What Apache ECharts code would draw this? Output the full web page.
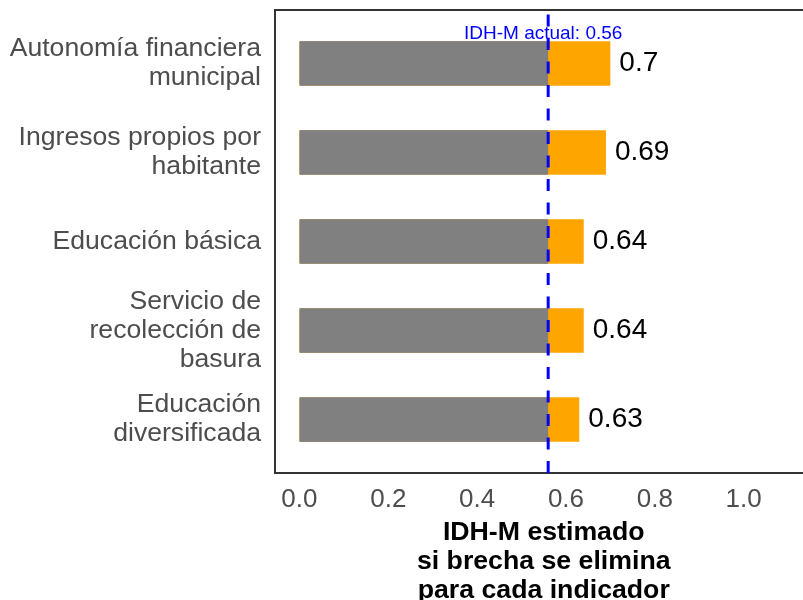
<!DOCTYPE html>
<html>
<head>
<meta charset="utf-8">
<script src="https://cdn.jsdelivr.net/npm/echarts@6/dist/echarts.min.js"></script>
<style>
  html, body { margin: 0; padding: 0; background: #ffffff; }
  #chart { width: 803px; height: 600px; }
</style>
</head>
<body>
<div id="chart"></div>
<script>
// Indicators (top to bottom) and the estimated IDH-M if each gap were closed
const indicators = [
  'Autonomía financiera\nmunicipal',
  'Ingresos propios por\nhabitante',
  'Educación básica',
  'Servicio de\nrecolección de\nbasura',
  'Educación\ndiversificada'
];
const estimatedIdh = [0.7, 0.69, 0.64, 0.64, 0.63];
const currentIdh = 0.56;
const currentIdhBars = [0.56, 0.56, 0.56, 0.56, 0.56];
const xTicks = [0, 0.2, 0.4, 0.6, 0.8, 1.0];
const xTitle = 'IDH-M estimado\nsi brecha se elimina\npara cada indicador';
const refLabel = 'IDH-M actual: ' + currentIdh;

// Layout (the panel runs past the right edge of the canvas)
const FONT = '"Liberation Sans", Arial, Helvetica, sans-serif';
const X_MIN = -0.055, X_MAX = 1.155;
const PANEL_LEFT = 275, PANEL_TOP = 10, PANEL_H = 463;
const PX_PER_UNIT = 444.2;
const PANEL_W = (X_MAX - X_MIN) * PX_PER_UNIT;
const BAND = PANEL_H / (indicators.length + 0.2);
const ANNOT_Y = 0.948;

const chart = echarts.init(document.getElementById('chart'), null, { renderer: 'canvas' });

chart.setOption({
  animation: false,
  backgroundColor: '#ffffff',
  grid: [
    { // panel frame
      left: PANEL_LEFT, width: PANEL_W, top: PANEL_TOP, height: PANEL_H,
      outerBoundsMode: 'none', containLabel: false,
      show: true, borderColor: '#333333', borderWidth: 2, backgroundColor: 'transparent'
    },
    { // bars
      left: PANEL_LEFT, width: PANEL_W,
      top: PANEL_TOP + BAND * 0.1, height: BAND * indicators.length,
      outerBoundsMode: 'none', containLabel: false
    }
  ],
  xAxis: [
    {
      gridIndex: 0, type: 'value', min: X_MIN, max: X_MAX,
      axisLine: { show: false }, axisTick: { show: false }, splitLine: { show: false },
      axisLabel: {
        customValues: xTicks,
        formatter: v => v.toFixed(1),
        fontFamily: FONT, fontSize: 26, color: '#4d4d4d', margin: 14
      },
      name: xTitle, nameLocation: 'middle', nameGap: 45,
      nameTextStyle: { fontFamily: FONT, fontSize: 26.7, fontWeight: 'bold', color: '#000000', lineHeight: 29 }
    },
    {
      gridIndex: 1, type: 'value', min: X_MIN, max: X_MAX, show: false
    }
  ],
  yAxis: [
    { gridIndex: 0, type: 'value', min: 0, max: 1, show: false },
    {
      gridIndex: 1, type: 'category', data: indicators, inverse: true,
      axisLine: { show: false }, axisTick: { show: false }, splitLine: { show: false },
      axisLabel: {
        fontFamily: FONT, fontSize: 26.6, lineHeight: 29, color: '#4d4d4d',
        margin: 14, align: 'right'
      }
    }
  ],
  series: [
    {
      name: 'IDH-M estimado', type: 'bar', xAxisIndex: 1, yAxisIndex: 1,
      data: estimatedIdh, barWidth: '50%', barGap: '-100%',
      itemStyle: { color: '#FFA500' },
      label: {
        show: true, position: 'right', distance: 9,
        formatter: p => String(p.value),
        fontFamily: FONT, fontSize: 28, color: '#000000'
      }
    },
    {
      name: 'IDH-M actual', type: 'bar', xAxisIndex: 1, yAxisIndex: 1,
      data: currentIdhBars, barWidth: '50%', barGap: '-100%',
      itemStyle: { color: '#808080', borderColor: '#808080', borderWidth: 1 }
    },
    {
      name: 'Referencia', type: 'line', xAxisIndex: 0, yAxisIndex: 0, z: 5,
      data: [[currentIdh, 0], [currentIdh, 1]],
      symbol: 'none',
      lineStyle: { color: '#0000FF', width: 3, type: [12, 11.5] },
      markPoint: {
        symbol: 'circle', symbolSize: 0,
        data: [{ coord: [currentIdh, ANNOT_Y] }],
        label: {
          show: true, position: 'inside', offset: [-5, 0],
          formatter: refLabel,
          fontFamily: FONT, fontSize: 19, color: '#0000FF'
        }
      }
    }
  ]
});
</script>
</body>
</html>
